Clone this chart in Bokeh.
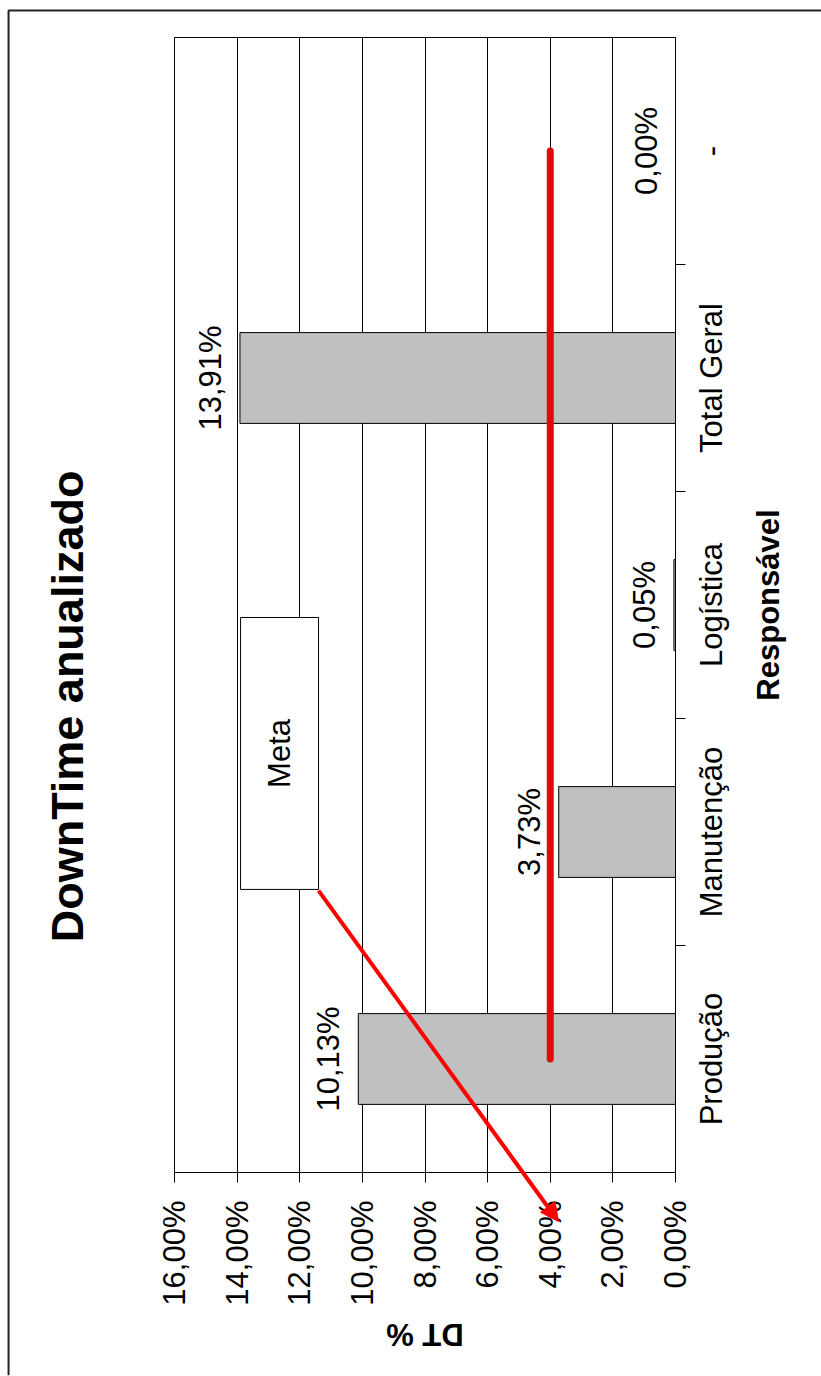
import math

from bokeh.core.properties import value
from bokeh.embed import file_html
from bokeh.models import (Arrow, BoxAnnotation, ColumnDataSource, CustomJSTickFormatter,
                          FixedTicker, Label, NormalHead, Range1d)
from bokeh.plotting import figure
from bokeh.resources import INLINE

# Downtime share per responsible area (percent of available time)
categories = ["Produção", "Manutenção", "Logística", "Total Geral", "-"]
dt_pct = [10.13, 3.73, 0.05, 13.91, 0.00]
meta_pct = [4.0, 4.0, 4.0, 4.0, 4.0]
value_ticks = [0, 2, 4, 6, 8, 10, 12, 14, 16]

FONT = "Liberation Sans"

# The chart is laid out upright (1376 wide x 821 tall) on a square canvas and
# the page turns it a quarter turn counter-clockwise, like a rotated printout.
# A square keeps the turned box the same size, so the layout is unaffected.
S = 1376          # square canvas side
HC = 821          # height of the upright chart area
BL, BR, BT = 203, 38, 174
BB = 146 + (S - HC)
X0, X1 = -0.5, len(categories) - 0.5
Y0, Y1 = 0, 16
TURN = {"transform": f"translateY({S}px) rotate(-90deg)", "transform-origin": "0 0"}

pos = list(range(len(categories)))
labels = [f"{v:.2f}".replace(".", ",") + "%" for v in dt_pct]
src = ColumnDataSource(dict(pos=pos, cat=categories, dt=dt_pct, meta=meta_pct, label=labels))

p = figure(width=S, height=S, output_backend="svg", toolbar_location=None,
           x_range=Range1d(X0, X1), y_range=Range1d(Y0, Y1),
           min_border_left=BL, min_border_right=BR, min_border_top=BT, min_border_bottom=BB)
p.styles = dict(TURN)
p.title.visible = False
p.background_fill_color = "white"
p.border_fill_color = "white"
p.outline_line_color = "black"

# value axis (percent)
yax = p.yaxis[0]
yax.ticker = FixedTicker(ticks=value_ticks)
yax.formatter = CustomJSTickFormatter(code="return tick.toFixed(2).replace('.', ',') + '%';")
yax.major_label_orientation = "horizontal"
yax.major_label_text_font = FONT
yax.major_label_text_font_size = "31px"
yax.major_label_text_color = "black"
yax.major_label_standoff = 18
yax.major_tick_out = 10
yax.major_tick_in = 0
yax.minor_tick_line_color = None
yax.axis_line_color = "black"
yax.major_tick_line_color = "black"
yax.axis_label = "DT %"
yax.axis_label_text_font = FONT
yax.axis_label_text_font_size = "31px"
yax.axis_label_text_font_style = "bold"
yax.axis_label_text_color = "black"
yax.axis_label_standoff = 8

# category axis, ticks between categories
xax = p.xaxis[0]
xax.ticker = FixedTicker(ticks=pos, minor_ticks=[0.5, 1.5, 2.5, 3.5])
xax.major_label_overrides = {i: c for i, c in zip(pos, categories)}
xax.major_label_orientation = "horizontal"
xax.major_label_text_font = FONT
xax.major_label_text_font_size = "31px"
xax.major_label_text_color = "black"
xax.major_label_standoff = 8
xax.major_tick_out = 10
xax.major_tick_in = 0
xax.major_tick_line_color = None
xax.minor_tick_out = 10
xax.minor_tick_in = 0
xax.minor_tick_line_color = "black"
xax.axis_line_color = "black"
xax.axis_label = "Responsável"
xax.axis_label_text_font = FONT
xax.axis_label_text_font_size = "31px"
xax.axis_label_text_font_style = "bold"
xax.axis_label_text_color = "black"
xax.axis_label_standoff = 19

p.ygrid.ticker = FixedTicker(ticks=value_ticks)
p.ygrid.grid_line_color = "black"
p.xgrid.grid_line_color = None

# bars
p.vbar(x="pos", bottom=0, top="dt", width=0.4, source=src,
       fill_color="#c0c0c0", line_color="black", line_width=1)

# value labels above bar ends
p.text(x="pos", y="dt", text="label", source=src,
       text_align="center", text_baseline="bottom", y_offset=-12,
       text_font=value(FONT), text_font_size="31px", text_color="black")

# target line
p.line(x="pos", y="meta", source=src, line_color="#e00a0a", line_width=7, line_cap="round")

# "Meta" callout box
p.add_layout(BoxAnnotation(left=0.747, right=1.945, bottom=11.40, top=13.89,
                           fill_color="white", fill_alpha=1.0,
                           line_color="black", line_width=1, line_alpha=1.0))
p.add_layout(Label(x=1.346, y=12.65, text="Meta", text_align="center", text_baseline="middle",
                   text_font=FONT, text_font_size="31px", text_color="black"))

# Transparent overlay sharing the same data scale, extended over the whole
# canvas, for the title, the callout arrow and the page frame.
ux = (X1 - X0) / (S - BL - BR)
uy = (Y1 - Y0) / (S - BT - BB)
deco = figure(width=S, height=S, output_backend="svg", toolbar_location=None,
              x_axis_type=None, y_axis_type=None,
              min_border_left=0, min_border_right=0, min_border_top=0, min_border_bottom=0,
              x_range=Range1d(X0 - BL * ux, X1 + BR * ux),
              y_range=Range1d(Y0 - BB * uy, Y1 + BT * uy))
deco.title.visible = False
deco.grid.visible = False
deco.background_fill_color = None
deco.border_fill_color = None
deco.outline_line_color = None
deco.styles = dict(TURN, position="absolute", top="0px", left="0px")
deco.styles["pointer-events"] = "none"

deco.add_layout(Label(x=1.553, y=19.42, text="DownTime anualizado",
                      text_align="center", text_baseline="middle",
                      text_font=FONT, text_font_size="45px", text_font_style="bold",
                      text_color="black"))
deco.add_layout(Arrow(x_start=0.742, y_start=11.40, x_end=-0.716, y_end=3.74,
                      line_color="#ff0000", line_width=4,
                      end=NormalHead(size=18, fill_color="#ff0000", line_color="#ff0000")))
deco.line(x=[X0 - BL * ux, 4.619, 4.619], y=[21.30, 21.30, Y0 - 146 * uy],
          line_color="#222222", line_width=2)

open("out.html", "w").write(file_html([p, deco], INLINE))
